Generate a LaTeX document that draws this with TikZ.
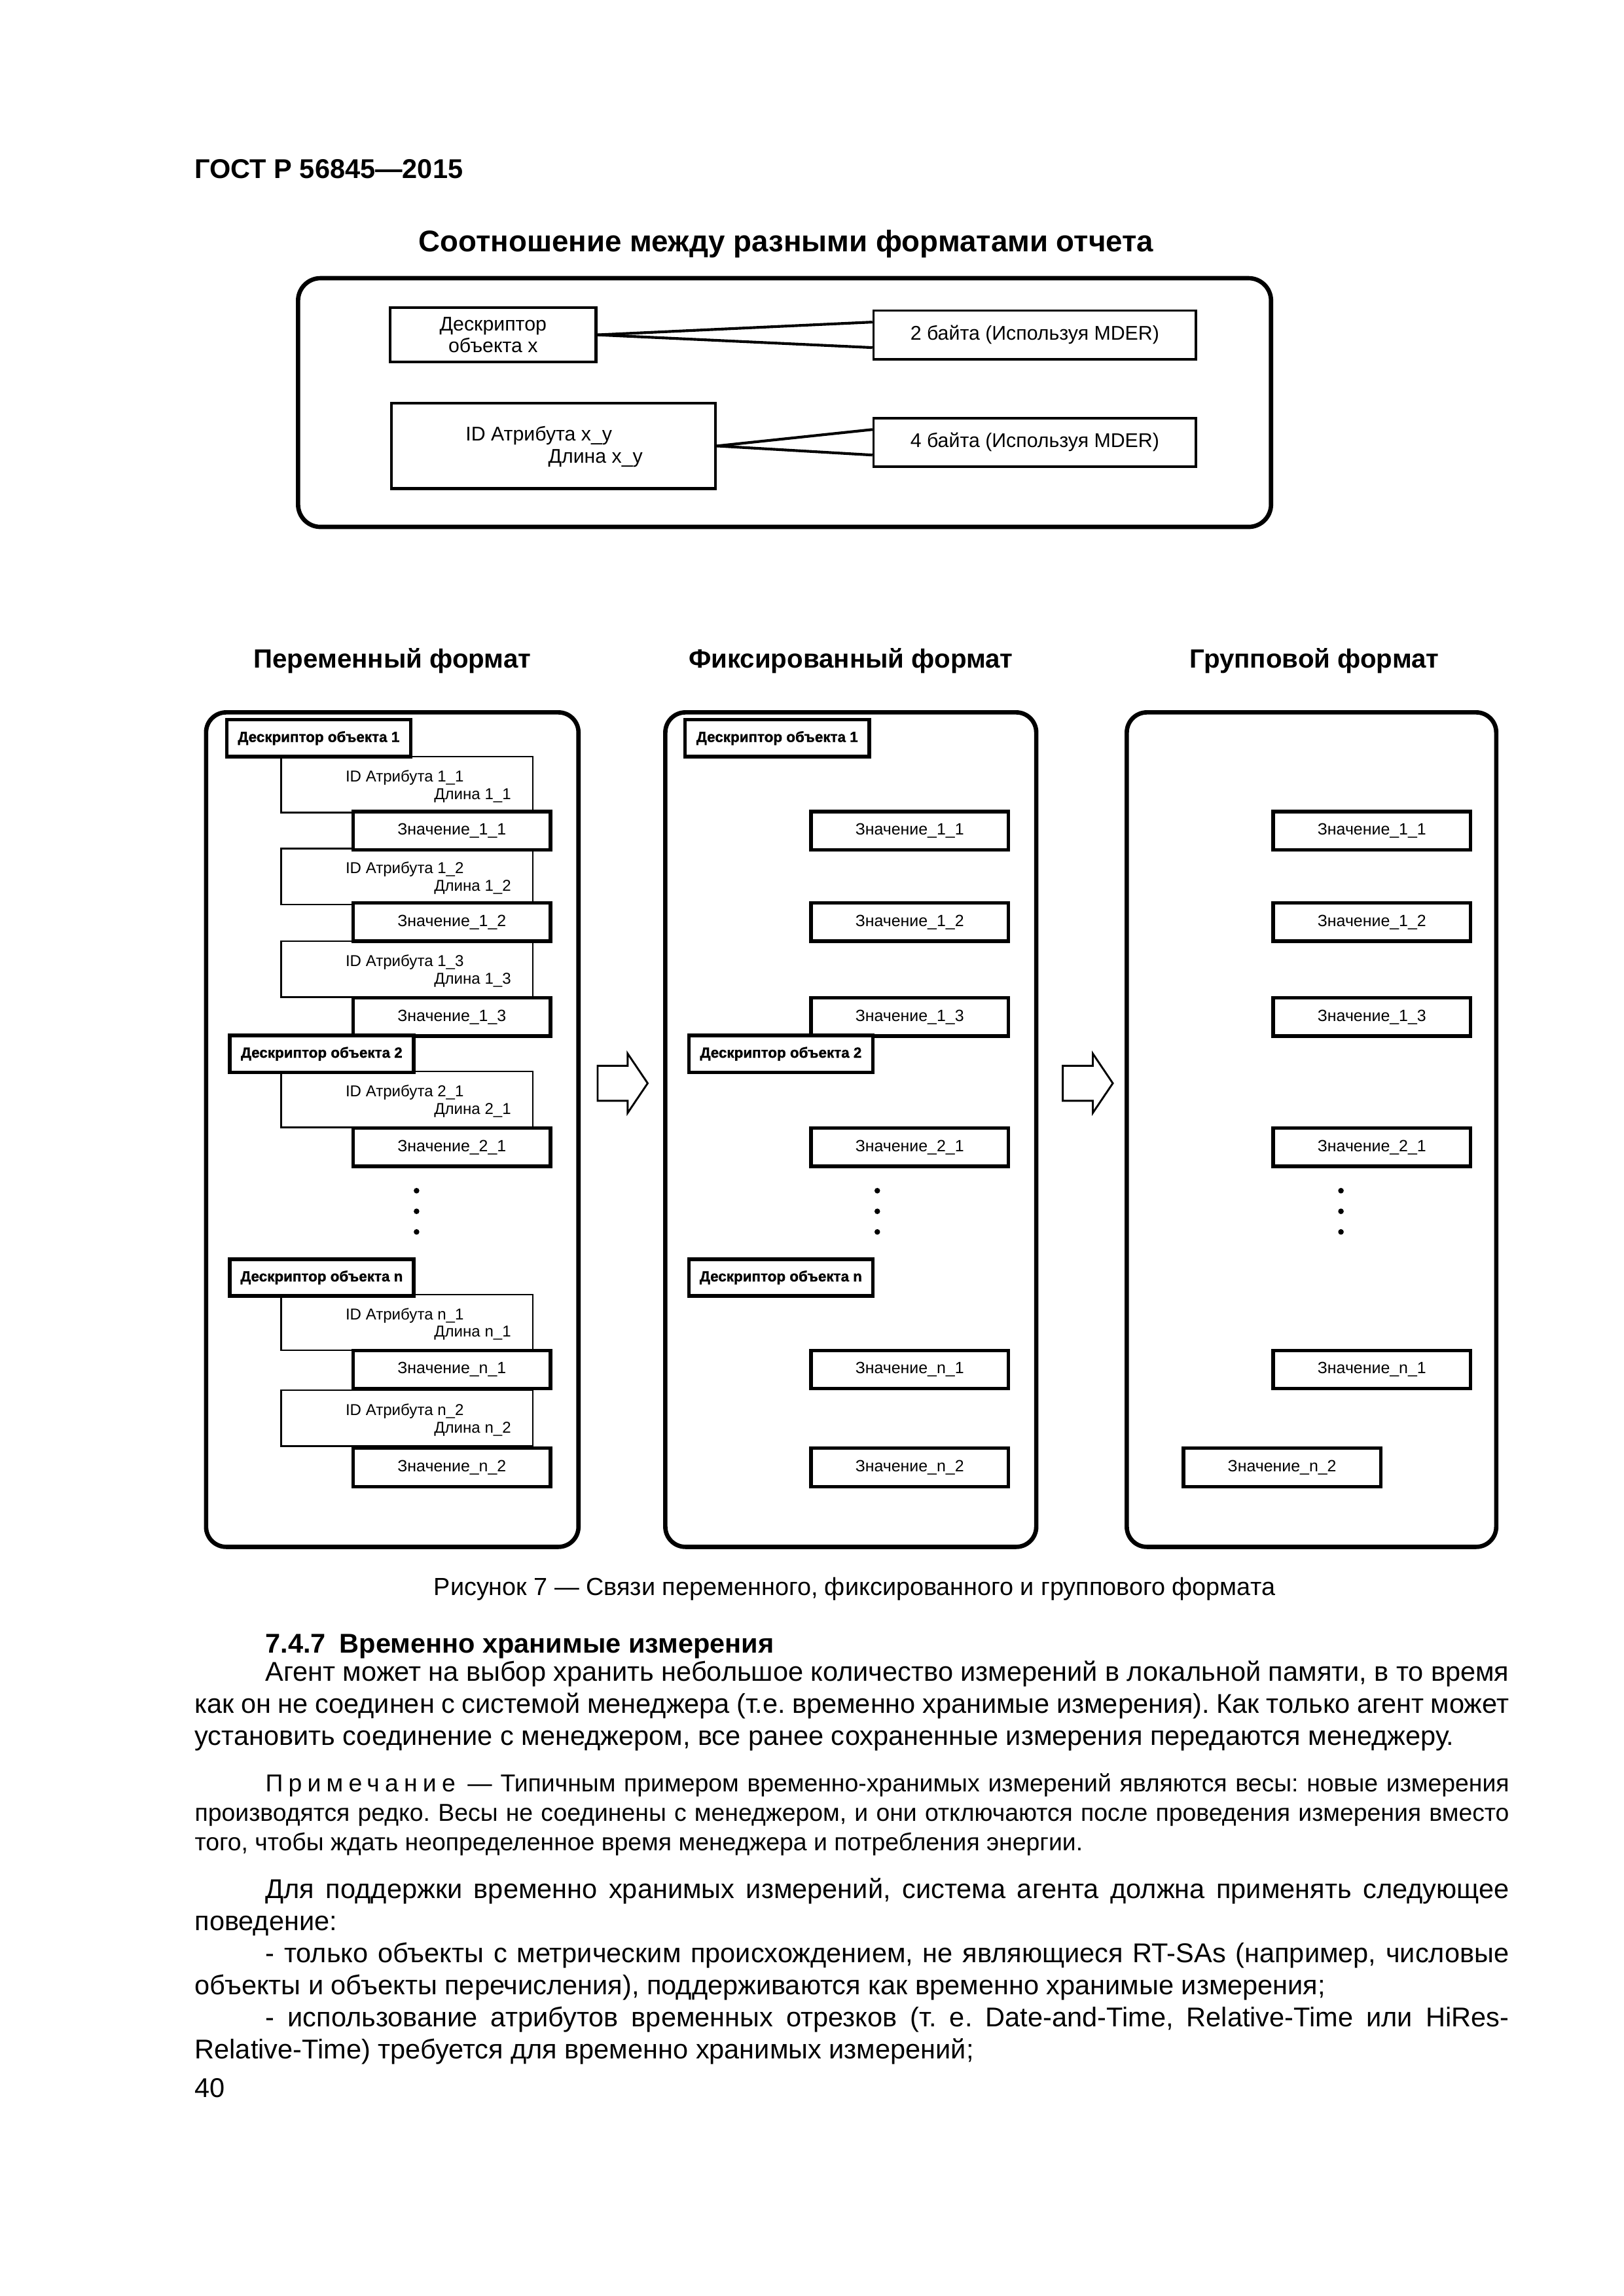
\documentclass[tikz,border=0pt]{standalone}
\usepackage{fontspec}
\setmainfont{Liberation Sans}
\usetikzlibrary{calc, positioning, shapes.arrows}
\frenchspacing

\newcommand{\px}{0.1904mm}

\begin{document}
\begin{tikzpicture}[x=0.1904mm, y=-0.1904mm, conn/.style = {line width=1pt}]

\tikzstyle{outer} = [draw, line width=1.6pt, rounded corners=2.6mm, inner sep=0pt]
\tikzstyle{topbox} = [draw, line width=1.1pt, inner sep=0pt, align=center, font=\fontsize{7.3}{8.1}\selectfont]
\tikzstyle{toptext} = [inner sep=0pt, font=\fontsize{7.3}{8.1}\selectfont]
\tikzstyle{descbox} = [draw, fill=white, line width=1.3pt, inner sep=0pt, minimum width=125*\px, minimum height=25*\px, font=\fontsize{5.4}{6}\selectfont\bfseries\addfontfeature{FakeBold=1.2}]
\tikzstyle{attrbox} = [draw, fill=white, line width=0.6pt, inner sep=0pt, minimum width=171*\px, minimum height=38*\px]
\tikzstyle{attrtext} = [inner sep=0pt, font=\fontsize{5.8}{7}\selectfont]
\tikzstyle{valbox} = [draw, fill=white, line width=1.3pt, inner sep=0pt, minimum width=134*\px, minimum height=26*\px, font=\fontsize{6}{7}\selectfont]
\tikzstyle{dot} = [circle, fill, inner sep=0pt, minimum size=3.8*\px]
\tikzstyle{bigarrow} = [single arrow, draw, line width=0.7pt, inner xsep=0pt, inner ysep=2.14mm, minimum height=34*\px, single arrow head extend=1.57mm, single arrow tip angle=112]
\tikzstyle{heading} = [inner sep=0pt, font=\fontsize{9.7}{11}\selectfont\bfseries]
\tikzstyle{bodytext} = [inner sep=0pt, text width=170mm, align=justify, font=\fontsize{10}{11.8}\selectfont]
\tikzstyle{notetext} = [inner sep=0pt, text width=170mm, align=justify, font=\fontsize{9}{10.8}\selectfont]

% page
\fill[white] (0,0) rectangle (1103,1560);
\useasboundingbox (0,0) rectangle (1103,1560);

% header and title
\node[inner sep=0pt, anchor=base west, font=\fontsize{10}{12}\selectfont\bfseries] (gost) at (132,121) {ГОСТ Р 56845—2015};
\node[inner sep=0pt, anchor=base, font=\fontsize{11}{13}\selectfont\bfseries] (title) at (534,171) {Соотношение между разными форматами отчета};

% upper frame
\node[outer, minimum width=661*\px, minimum height=169*\px, rounded corners=2.9mm] (top) at (533,273.5) {};
\node[topbox, minimum width=140*\px, minimum height=37*\px] (dx) at (335,227.5) {Дескриптор\\объекта x};
\node[topbox, line width=0.9pt, minimum width=219*\px, minimum height=33*\px] (b2) at (703,227.5) {2 байта (Используя MDER)};
\node[topbox, minimum width=220*\px, minimum height=58*\px] (idxy) at (376,303) {};
\node[toptext, anchor=base west] (idxya) at ($(idxy.west)+(51,-3.5)$) {ID Атрибута x\_y};
\node[toptext, anchor=base east] (idxyb) at ($(idxy.east)+(-50,11.5)$) {Длина x\_y};
\node[topbox, line width=0.9pt, minimum width=219*\px, minimum height=33*\px] (b4) at (703,300.5) {4 байта (Используя MDER)};
% connections
\draw[conn] (dx.east) -- ($(b2.north west)!0.25!(b2.south west)$);
\draw[conn] (dx.east) -- ($(b2.north west)!0.75!(b2.south west)$);
\draw[conn] (idxy.east) -- ($(b4.north west)!0.25!(b4.south west)$);
\draw[conn] (idxy.east) -- ($(b4.north west)!0.75!(b4.south west)$);

% format headings
\node[heading, anchor=base] (hvar) at (266.5,454) {Переменный формат};
\node[heading, anchor=base] (hfix) at (578,454) {Фиксированный формат};
\node[heading, anchor=base] (hgrp) at (893,454) {Групповой формат};

% panels
\node[outer, minimum width=253*\px, minimum height=567*\px] (pan1) at (266.5,767.5) {};
\node[outer, minimum width=252*\px, minimum height=567*\px] (pan2) at (578,767.5) {};
\node[outer, minimum width=251*\px, minimum height=567*\px] (pan3) at (891,767.5) {};

% block arrows
\node[bigarrow] (arr1) at (419,736) {};
\node[bigarrow] (arr2) at (735,736) {};

% variable format
\node[attrbox] (id11) at (276.5,533) {};
\node[attrtext, anchor=base west] (id11a) at ($(id11.west)+(44,-2)$) {ID Атрибута 1\_1};
\node[attrtext, anchor=base east] (id11b) at ($(id11.east)+(-15,10)$) {Длина 1\_1};
\node[attrbox] (id12) at (276.5,595.5) {};
\node[attrtext, anchor=base west] (id12a) at ($(id12.west)+(44,-2)$) {ID Атрибута 1\_2};
\node[attrtext, anchor=base east] (id12b) at ($(id12.east)+(-15,10)$) {Длина 1\_2};
\node[attrbox] (id13) at (276.5,658.5) {};
\node[attrtext, anchor=base west] (id13a) at ($(id13.west)+(44,-2)$) {ID Атрибута 1\_3};
\node[attrtext, anchor=base east] (id13b) at ($(id13.east)+(-15,10)$) {Длина 1\_3};
\node[attrbox] (id21) at (276.5,747) {};
\node[attrtext, anchor=base west] (id21a) at ($(id21.west)+(44,-2)$) {ID Атрибута 2\_1};
\node[attrtext, anchor=base east] (id21b) at ($(id21.east)+(-15,10)$) {Длина 2\_1};
\node[attrbox] (idn1) at (276.5,898.5) {};
\node[attrtext, anchor=base west] (idn1a) at ($(idn1.west)+(44,-2)$) {ID Атрибута n\_1};
\node[attrtext, anchor=base east] (idn1b) at ($(idn1.east)+(-15,10)$) {Длина n\_1};
\node[attrbox] (idn2) at (276.5,963.5) {};
\node[attrtext, anchor=base west] (idn2a) at ($(idn2.west)+(44,-2)$) {ID Атрибута n\_2};
\node[attrtext, anchor=base east] (idn2b) at ($(idn2.east)+(-15,10)$) {Длина n\_2};
% values
\node[valbox] (va11) at (307,564.5) {Значение\_1\_1};
\node[valbox] (va12) at (307,626.5) {Значение\_1\_2};
\node[valbox] (va13) at (307,691) {Значение\_1\_3};
\node[valbox] (va21) at (307,779.5) {Значение\_2\_1};
\node[valbox] (van1) at (307,930.5) {Значение\_n\_1};
\node[valbox] (van2) at (307,997) {Значение\_n\_2};
% descriptors
\node[descbox] (vd1) at (216.5,501.5) {Дескриптор объекта 1};
\node[descbox] (vd2) at (218.5,716) {Дескриптор объекта 2};
\node[descbox] (vdn) at (218.5,868) {Дескриптор объекта n};
% dots
\node[dot] (vdot1) at (283,809) {};
\node[dot] (vdot2) at (283,823) {};
\node[dot] (vdot3) at (283,837) {};

% fixed format
\node[valbox] (fa11) at (618,564.5) {Значение\_1\_1};
\node[valbox] (fa12) at (618,626.5) {Значение\_1\_2};
\node[valbox] (fa13) at (618,691) {Значение\_1\_3};
\node[valbox] (fa21) at (618,779.5) {Значение\_2\_1};
\node[valbox] (fan1) at (618,930.5) {Значение\_n\_1};
\node[valbox] (fan2) at (618,997) {Значение\_n\_2};
\node[descbox] (fd1) at (528,501.5) {Дескриптор объекта 1};
\node[descbox] (fd2) at (530.5,716) {Дескриптор объекта 2};
\node[descbox] (fdn) at (530.5,868) {Дескриптор объекта n};
\node[dot] (fdot1) at (596,809) {};
\node[dot] (fdot2) at (596,823) {};
\node[dot] (fdot3) at (596,837) {};

% group format
\node[valbox] (ga11) at (932,564.5) {Значение\_1\_1};
\node[valbox] (ga12) at (932,626.5) {Значение\_1\_2};
\node[valbox] (ga13) at (932,691) {Значение\_1\_3};
\node[valbox] (ga21) at (932,779.5) {Значение\_2\_1};
\node[valbox] (gan1) at (932,930.5) {Значение\_n\_1};
\node[valbox] (gan2) at (871,997) {Значение\_n\_2};
\node[dot] (gdot1) at (911,809) {};
\node[dot] (gdot2) at (911,823) {};
\node[dot] (gdot3) at (911,837) {};

% caption
\node[inner sep=0pt, anchor=base, font=\fontsize{9.1}{11}\selectfont] (capt) at (580.5,1084) {Рисунок 7 — Связи переменного, фиксированного и группового формата};

% text below
\node[inner sep=0pt, anchor=base west, font=\fontsize{10}{12}\selectfont\bfseries] (sect) at (180,1123) {7.4.7\enspace Временно хранимые измерения};
\node[bodytext, anchor=base west] (par1) at (132,1142) {\hspace*{9.14mm}Агент может на выбор хранить небольшое количество измерений в локальной памяти, в то время\linebreak как он не соединен с системой менеджера (т.е. временно хранимые измерения). Как только агент может\linebreak установить соединение с менеджером, все ранее сохраненные измерения передаются менеджеру.};
\node[notetext, anchor=base west] (note) at (132,1217.5) {\hspace*{9.14mm}{\addfontfeature{LetterSpace=22}Примечание}\enspace — Типичным примером временно-хранимых измерений являются весы: новые измерения\linebreak производятся редко. Весы не соединены с менеджером, и они отключаются после проведения измерения вместо\linebreak того, чтобы ждать неопределенное время менеджера и потребления энергии.};
\node[bodytext, anchor=base west] (par2) at (132,1290) {\hspace*{9.14mm}Для поддержки временно хранимых измерений, система агента должна применять следующее\linebreak поведение:\par
\hspace*{9.14mm}- только объекты с метрическим происхождением, не являющиеся RT-SAs (например, числовые\linebreak объекты и объекты перечисления), поддерживаются как временно хранимые измерения;\par
\hspace*{9.14mm}- использование атрибутов временных отрезков (т. е. Date-and-Time, Relative-Time или HiRes-\linebreak Relative-Time) требуется для временно хранимых измерений;};
\node[inner sep=0pt, anchor=base west, font=\fontsize{10}{12}\selectfont] (pnum) at (132,1425) {40};

\end{tikzpicture}
\end{document}
